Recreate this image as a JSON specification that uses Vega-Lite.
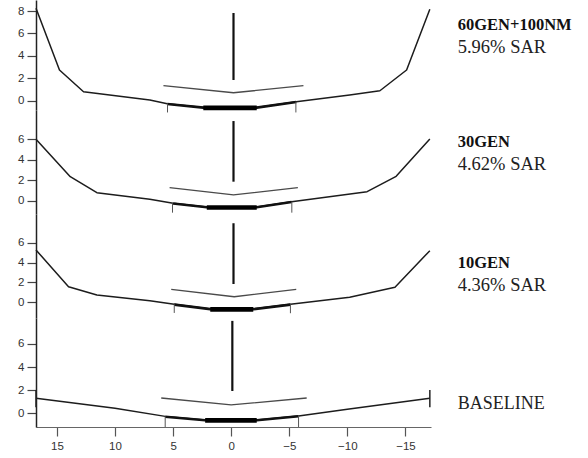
{
 "$schema": "https://vega.github.io/schema/vega-lite/v6.json",
 "padding": {"left": 5, "top": 0, "right": 5, "bottom": 5},
 "background": "white",
 "spacing": 0,
 "bounds": "flush",
 "datasets": {
  "curves": [
   {"panel":1,"series":"surface","x":16.8,"y":8.25},{"panel":1,"series":"surface","x":14.78,"y":2.74},{"panel":1,"series":"surface","x":12.71,"y":0.8},{"panel":1,"series":"surface","x":7.0,"y":0.06},{"panel":1,"series":"surface","x":5.5,"y":-0.27},{"panel":1,"series":"surface","x":2.4,"y":-0.6},{"panel":1,"series":"surface","x":-2.2,"y":-0.6},{"panel":1,"series":"surface","x":-5.6,"y":-0.09},{"panel":1,"series":"surface","x":-10.2,"y":0.5},{"panel":1,"series":"surface","x":-12.8,"y":0.89},{"panel":1,"series":"surface","x":-15.1,"y":2.74},{"panel":1,"series":"surface","x":-17.1,"y":8.16},
   {"panel":1,"series":"inner","x":5.5,"y":-0.3},{"panel":1,"series":"inner","x":2.4,"y":-0.62},{"panel":1,"series":"inner","x":-2.2,"y":-0.62},{"panel":1,"series":"inner","x":-5.6,"y":-0.12},
   {"panel":1,"series":"core","x":2.4,"y":-0.64},{"panel":1,"series":"core","x":-2.2,"y":-0.64},
   {"panel":1,"series":"V","x":5.83,"y":1.34},{"panel":1,"series":"V","x":-0.2,"y":0.71},{"panel":1,"series":"V","x":-6.22,"y":1.34},

   {"panel":2,"series":"surface","x":16.8,"y":6.0},{"panel":2,"series":"surface","x":13.85,"y":2.35},{"panel":2,"series":"surface","x":11.56,"y":0.78},{"panel":2,"series":"surface","x":7.0,"y":0.14},{"panel":2,"series":"surface","x":5.0,"y":-0.25},{"panel":2,"series":"surface","x":2.1,"y":-0.62},{"panel":2,"series":"surface","x":-2.2,"y":-0.62},{"panel":2,"series":"surface","x":-5.2,"y":-0.1},{"panel":2,"series":"surface","x":-11.7,"y":0.88},{"panel":2,"series":"surface","x":-14.2,"y":2.38},{"panel":2,"series":"surface","x":-17.1,"y":6.03},
   {"panel":2,"series":"inner","x":5.0,"y":-0.28},{"panel":2,"series":"inner","x":2.1,"y":-0.64},{"panel":2,"series":"inner","x":-2.2,"y":-0.64},{"panel":2,"series":"inner","x":-5.2,"y":-0.13},
   {"panel":2,"series":"core","x":2.1,"y":-0.66},{"panel":2,"series":"core","x":-2.2,"y":-0.66},
   {"panel":2,"series":"V","x":5.3,"y":1.27},{"panel":2,"series":"V","x":-0.2,"y":0.56},{"panel":2,"series":"V","x":-5.74,"y":1.27},

   {"panel":3,"series":"surface","x":16.8,"y":5.27},{"panel":3,"series":"surface","x":14.0,"y":1.57},{"panel":3,"series":"surface","x":11.56,"y":0.74},{"panel":3,"series":"surface","x":7.0,"y":0.16},{"panel":3,"series":"surface","x":4.9,"y":-0.2},{"panel":3,"series":"surface","x":1.8,"y":-0.67},{"panel":3,"series":"surface","x":-1.9,"y":-0.67},{"panel":3,"series":"surface","x":-5.1,"y":-0.2},{"panel":3,"series":"surface","x":-10.2,"y":0.5},{"panel":3,"series":"surface","x":-14.1,"y":1.51},{"panel":3,"series":"surface","x":-17.1,"y":5.2},
   {"panel":3,"series":"inner","x":4.9,"y":-0.23},{"panel":3,"series":"inner","x":1.8,"y":-0.69},{"panel":3,"series":"inner","x":-1.9,"y":-0.69},{"panel":3,"series":"inner","x":-5.1,"y":-0.23},
   {"panel":3,"series":"core","x":1.8,"y":-0.71},{"panel":3,"series":"core","x":-1.9,"y":-0.71},
   {"panel":3,"series":"V","x":5.16,"y":1.31},{"panel":3,"series":"V","x":-0.26,"y":0.56},{"panel":3,"series":"V","x":-5.6,"y":1.31},

   {"panel":4,"series":"surface","x":16.8,"y":1.3},{"panel":4,"series":"surface","x":10,"y":0.43},{"panel":4,"series":"surface","x":5.68,"y":-0.27},{"panel":4,"series":"surface","x":2.24,"y":-0.58},{"panel":4,"series":"surface","x":-2.2,"y":-0.58},{"panel":4,"series":"surface","x":-5.8,"y":-0.23},{"panel":4,"series":"surface","x":-10,"y":0.35},{"panel":4,"series":"surface","x":-17.1,"y":1.3},
   {"panel":4,"series":"inner","x":5.68,"y":-0.3},{"panel":4,"series":"inner","x":2.24,"y":-0.6},{"panel":4,"series":"inner","x":-2.2,"y":-0.6},{"panel":4,"series":"inner","x":-5.8,"y":-0.26},
   {"panel":4,"series":"core","x":2.24,"y":-0.62},{"panel":4,"series":"core","x":-2.2,"y":-0.62},
   {"panel":4,"series":"V","x":6.02,"y":1.32},{"panel":4,"series":"V","x":0,"y":0.72},{"panel":4,"series":"V","x":-6.5,"y":1.32}
  ],
  "rules": [
   {"panel":1,"series":"center","x":-0.2,"y":1.85,"y2":7.83},{"panel":1,"series":"tick","x":5.48,"y":-0.25,"y2":-1.05},{"panel":1,"series":"tick","x":-5.57,"y":-0.09,"y2":-1.05},
   {"panel":2,"series":"center","x":-0.2,"y":1.86,"y2":7.79},{"panel":2,"series":"tick","x":5.05,"y":-0.25,"y2":-1.17},{"panel":2,"series":"tick","x":-5.22,"y":-0.1,"y2":-1.17},
   {"panel":3,"series":"center","x":-0.2,"y":1.84,"y2":7.96},{"panel":3,"series":"tick","x":4.9,"y":-0.2,"y2":-1.07},{"panel":3,"series":"tick","x":-5.1,"y":-0.2,"y2":-1.1},
   {"panel":4,"series":"center","x":-0.1,"y":1.93,"y2":8.0},{"panel":4,"series":"tick","x":5.68,"y":-0.27,"y2":-1.19},{"panel":4,"series":"tick","x":-5.8,"y":-0.23,"y2":-1.19},{"panel":4,"series":"end","x":16.8,"y":0.52,"y2":2.02},{"panel":4,"series":"end","x":-17.1,"y":0.52,"y2":2.02}
  ]
 },
 "resolve": {"scale": {"y": "independent", "x": "independent"}, "axis": {"y": "independent", "x": "independent"}},
 "vconcat": [
  {
   "width": 395, "height": 110,
   "layer": [
    {"data": {"name": "curves"}, "transform": [{"filter": "datum.panel === 1"}],
     "mark": {"type": "line", "strokeJoin": "round"},
     "encoding": {
      "x": {"field": "x", "type": "quantitative", "scale": {"domain": [-17.2, 16.8], "reverse": true, "nice": false, "zero": false}, "axis": null},
      "y": {"field": "y", "type": "quantitative", "scale": {"domain": [-0.83, 8.99], "nice": false, "zero": false}, "axis": {"values": [0, 2, 4, 6, 8], "title": null, "labelOverlap": false}},
      "detail": {"field": "series"},
      "color": {"field": "series", "type": "nominal", "scale": {"domain": ["surface","inner","core","V","center","tick","end"], "range": ["#1c1c1c","#111111","#000000","#4a4a4a","#111111","#555555","#222222"]}, "legend": null},
      "strokeWidth": {"field": "series", "type": "ordinal", "scale": {"type": "ordinal", "domain": ["surface","inner","core","V","center","tick","end"], "range": [1.5,2.6,4.6,1.3,2.2,1,1.5]}, "legend": null}
     }},
    {"data": {"name": "rules"}, "transform": [{"filter": "datum.panel === 1"}],
     "mark": {"type": "rule"},
     "encoding": {
      "x": {"field": "x", "type": "quantitative", "axis": null},
      "y": {"field": "y", "type": "quantitative", "axis": {"values": [0, 2, 4, 6, 8], "title": null, "labelOverlap": false}},
      "y2": {"field": "y2"},
      "color": {"field": "series", "type": "nominal", "scale": {"domain": ["surface","inner","core","V","center","tick","end"], "range": ["#1c1c1c","#111111","#000000","#4a4a4a","#111111","#555555","#222222"]}, "legend": null},
      "strokeWidth": {"field": "series", "type": "ordinal", "scale": {"type": "ordinal", "domain": ["surface","inner","core","V","center","tick","end"], "range": [1.5,2.6,4.6,1.3,2.2,1,1.5]}, "legend": null}
     }},
    {"data": {"values": [{}]}, "mark": {"type": "text", "font": "Liberation Serif", "fontSize": 16.5, "fontWeight": "bold", "align": "left", "baseline": "alphabetic", "color": "#111"},
     "encoding": {"x": {"datum": -19.5, "axis": null}, "y": {"datum": 6.31, "axis": {"values": [0, 2, 4, 6, 8], "title": null, "labelOverlap": false}}, "text": {"value": "60GEN+100NM"}}},
    {"data": {"values": [{}]}, "mark": {"type": "text", "font": "Liberation Serif", "fontSize": 18.5, "align": "left", "baseline": "alphabetic", "color": "#222"},
     "encoding": {"x": {"datum": -19.5, "axis": null}, "y": {"datum": 4.26, "axis": {"values": [0, 2, 4, 6, 8], "title": null, "labelOverlap": false}}, "text": {"value": "5.96% SAR"}}}
   ]
  },
  {
   "width": 395, "height": 104,
   "layer": [
    {"data": {"name": "curves"}, "transform": [{"filter": "datum.panel === 2"}],
     "mark": {"type": "line", "strokeJoin": "round"},
     "encoding": {
      "x": {"field": "x", "type": "quantitative", "scale": {"domain": [-17.2, 16.8], "reverse": true, "nice": false, "zero": false}, "axis": null},
      "y": {"field": "y", "type": "quantitative", "scale": {"domain": [-1.3, 8.87], "nice": false, "zero": false}, "axis": {"values": [0, 2, 4, 6], "title": null, "labelOverlap": false}},
      "detail": {"field": "series"},
      "color": {"field": "series", "type": "nominal", "scale": {"domain": ["surface","inner","core","V","center","tick","end"], "range": ["#1c1c1c","#111111","#000000","#4a4a4a","#111111","#555555","#222222"]}, "legend": null},
      "strokeWidth": {"field": "series", "type": "ordinal", "scale": {"type": "ordinal", "domain": ["surface","inner","core","V","center","tick","end"], "range": [1.5,2.6,4.6,1.3,2.2,1,1.5]}, "legend": null}
     }},
    {"data": {"name": "rules"}, "transform": [{"filter": "datum.panel === 2"}],
     "mark": {"type": "rule"},
     "encoding": {
      "x": {"field": "x", "type": "quantitative", "axis": null},
      "y": {"field": "y", "type": "quantitative", "axis": {"values": [0, 2, 4, 6], "title": null, "labelOverlap": false}},
      "y2": {"field": "y2"},
      "color": {"field": "series", "type": "nominal", "scale": {"domain": ["surface","inner","core","V","center","tick","end"], "range": ["#1c1c1c","#111111","#000000","#4a4a4a","#111111","#555555","#222222"]}, "legend": null},
      "strokeWidth": {"field": "series", "type": "ordinal", "scale": {"type": "ordinal", "domain": ["surface","inner","core","V","center","tick","end"], "range": [1.5,2.6,4.6,1.3,2.2,1,1.5]}, "legend": null}
     }},
    {"data": {"values": [{}]}, "mark": {"type": "text", "font": "Liberation Serif", "fontSize": 16.5, "fontWeight": "bold", "align": "left", "baseline": "alphabetic", "color": "#111"},
     "encoding": {"x": {"datum": -19.5, "axis": null}, "y": {"datum": 5.22, "axis": {"values": [0, 2, 4, 6], "title": null, "labelOverlap": false}}, "text": {"value": "30GEN"}}},
    {"data": {"values": [{}]}, "mark": {"type": "text", "font": "Liberation Serif", "fontSize": 18.5, "align": "left", "baseline": "alphabetic", "color": "#222"},
     "encoding": {"x": {"datum": -19.5, "axis": null}, "y": {"datum": 3.0, "axis": {"values": [0, 2, 4, 6], "title": null, "labelOverlap": false}}, "text": {"value": "4.62% SAR"}}}
   ]
  },
  {
   "width": 395, "height": 104,
   "layer": [
    {"data": {"name": "curves"}, "transform": [{"filter": "datum.panel === 3"}],
     "mark": {"type": "line", "strokeJoin": "round"},
     "encoding": {
      "x": {"field": "x", "type": "quantitative", "scale": {"domain": [-17.2, 16.8], "reverse": true, "nice": false, "zero": false}, "axis": null},
      "y": {"field": "y", "type": "quantitative", "scale": {"domain": [-1.58, 8.89], "nice": false, "zero": false}, "axis": {"values": [0, 2, 4, 6], "title": null, "labelOverlap": false}},
      "detail": {"field": "series"},
      "color": {"field": "series", "type": "nominal", "scale": {"domain": ["surface","inner","core","V","center","tick","end"], "range": ["#1c1c1c","#111111","#000000","#4a4a4a","#111111","#555555","#222222"]}, "legend": null},
      "strokeWidth": {"field": "series", "type": "ordinal", "scale": {"type": "ordinal", "domain": ["surface","inner","core","V","center","tick","end"], "range": [1.5,2.6,4.6,1.3,2.2,1,1.5]}, "legend": null}
     }},
    {"data": {"name": "rules"}, "transform": [{"filter": "datum.panel === 3"}],
     "mark": {"type": "rule"},
     "encoding": {
      "x": {"field": "x", "type": "quantitative", "axis": null},
      "y": {"field": "y", "type": "quantitative", "axis": {"values": [0, 2, 4, 6], "title": null, "labelOverlap": false}},
      "y2": {"field": "y2"},
      "color": {"field": "series", "type": "nominal", "scale": {"domain": ["surface","inner","core","V","center","tick","end"], "range": ["#1c1c1c","#111111","#000000","#4a4a4a","#111111","#555555","#222222"]}, "legend": null},
      "strokeWidth": {"field": "series", "type": "ordinal", "scale": {"type": "ordinal", "domain": ["surface","inner","core","V","center","tick","end"], "range": [1.5,2.6,4.6,1.3,2.2,1,1.5]}, "legend": null}
     }},
    {"data": {"values": [{}]}, "mark": {"type": "text", "font": "Liberation Serif", "fontSize": 16.5, "fontWeight": "bold", "align": "left", "baseline": "alphabetic", "color": "#111"},
     "encoding": {"x": {"datum": -19.5, "axis": null}, "y": {"datum": 3.42, "axis": {"values": [0, 2, 4, 6], "title": null, "labelOverlap": false}}, "text": {"value": "10GEN"}}},
    {"data": {"values": [{}]}, "mark": {"type": "text", "font": "Liberation Serif", "fontSize": 18.5, "align": "left", "baseline": "alphabetic", "color": "#222"},
     "encoding": {"x": {"datum": -19.5, "axis": null}, "y": {"datum": 1.17, "axis": {"values": [0, 2, 4, 6], "title": null, "labelOverlap": false}}, "text": {"value": "4.36% SAR"}}}
   ]
  },
  {
   "width": 395, "height": 109,
   "layer": [
    {"data": {"name": "curves"}, "transform": [{"filter": "datum.panel === 4"}],
     "mark": {"type": "line", "strokeJoin": "round"},
     "encoding": {
      "x": {"field": "x", "type": "quantitative", "scale": {"domain": [-17.2, 16.8], "reverse": true, "nice": false, "zero": false}, "axis": {"values": [15, 10, 5, 0, -5, -10, -15], "title": null, "labelOverlap": false}},
      "y": {"field": "y", "type": "quantitative", "scale": {"domain": [-1.19, 8.25], "nice": false, "zero": false}, "axis": {"values": [0, 2, 4, 6], "title": null, "labelOverlap": false}},
      "detail": {"field": "series"},
      "color": {"field": "series", "type": "nominal", "scale": {"domain": ["surface","inner","core","V","center","tick","end"], "range": ["#1c1c1c","#111111","#000000","#4a4a4a","#111111","#555555","#222222"]}, "legend": null},
      "strokeWidth": {"field": "series", "type": "ordinal", "scale": {"type": "ordinal", "domain": ["surface","inner","core","V","center","tick","end"], "range": [1.5,2.6,4.6,1.3,2.2,1,1.5]}, "legend": null}
     }},
    {"data": {"name": "rules"}, "transform": [{"filter": "datum.panel === 4"}],
     "mark": {"type": "rule"},
     "encoding": {
      "x": {"field": "x", "type": "quantitative", "axis": {"values": [15, 10, 5, 0, -5, -10, -15], "title": null, "labelOverlap": false}},
      "y": {"field": "y", "type": "quantitative", "axis": {"values": [0, 2, 4, 6], "title": null, "labelOverlap": false}},
      "y2": {"field": "y2"},
      "color": {"field": "series", "type": "nominal", "scale": {"domain": ["surface","inner","core","V","center","tick","end"], "range": ["#1c1c1c","#111111","#000000","#4a4a4a","#111111","#555555","#222222"]}, "legend": null},
      "strokeWidth": {"field": "series", "type": "ordinal", "scale": {"type": "ordinal", "domain": ["surface","inner","core","V","center","tick","end"], "range": [1.5,2.6,4.6,1.3,2.2,1,1.5]}, "legend": null}
     }},
    {"data": {"values": [{}]}, "mark": {"type": "text", "font": "Liberation Serif", "fontSize": 18, "align": "left", "baseline": "alphabetic", "color": "#222"},
     "encoding": {"x": {"datum": -19.5, "axis": {"values": [15, 10, 5, 0, -5, -10, -15], "title": null, "labelOverlap": false}}, "y": {"datum": 0.33, "axis": {"values": [0, 2, 4, 6], "title": null, "labelOverlap": false}}, "text": {"value": "BASELINE"}}}
   ]
  }
 ],
 "config": {
  "view": {"stroke": null},
  "axisY": {"domainColor": "#222", "domainWidth": 1.5, "tickColor": "#444", "tickSize": 9, "tickWidth": 1.2, "labelPadding": 3, "labelFont": "Liberation Sans", "labelFontSize": 11.5, "labelColor": "#333", "grid": false, "minExtent": 31, "maxExtent": 31, "labelFlush": false, "labelBound": false},
  "axisX": {"domainColor": "#666", "domainWidth": 1.2, "tickColor": "#555", "tickSize": 9, "tickWidth": 1.2, "labelPadding": 4, "labelFont": "Liberation Sans", "labelFontSize": 11.5, "labelColor": "#333", "grid": false, "labelFlush": false}
 }
}
